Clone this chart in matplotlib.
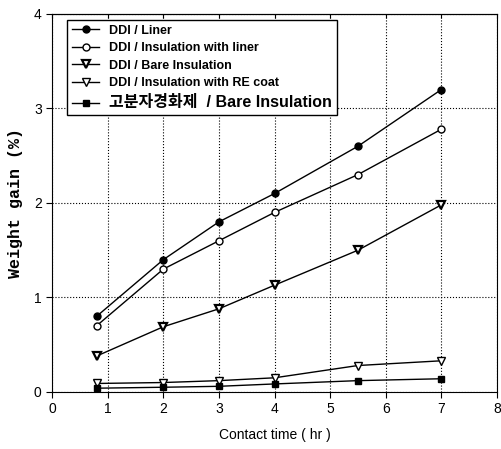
import numpy as np
from matplotlib import pyplot as plt

time = [0.8, 2, 3, 4, 5.5, 7]
liner = [0.8, 1.4, 1.8, 2.1, 2.6, 3.2]
ins_liner = [0.7, 1.3, 1.6, 1.9, 2.3, 2.78]
bare = [0.38, 0.69, 0.88, 1.13, 1.5, 1.98]
re_coat = [0.09, 0.1, 0.12, 0.15, 0.28, 0.33]
hardener = [0.04, 0.05, 0.06, 0.085, 0.12, 0.14]

fig = plt.figure(figsize=(5.01, 4.49), dpi=100)
ax = fig.add_axes([0.104, 0.127, 0.888, 0.842])

ax.plot(time, liner, 'k-', marker='o', ms=5, mfc='black', lw=1, label='DDI / Liner')
ax.plot(time, ins_liner, 'k-', marker='o', ms=5, mfc='white', lw=1, label='DDI / Insulation with liner')
ax.plot(time, bare, 'k-', marker='v', ms=6, mfc='white', mew=1.6, lw=1, label='DDI / Bare Insulation')
ax.plot(time, re_coat, 'k-', marker='v', ms=6, mfc='white', mew=1, lw=1, label='DDI / Insulation with RE coat')
ax.plot(time, hardener, 'k-', marker='s', ms=5, mfc='black', lw=1, label='고분자경화제  / Bare Insulation')

ax.set_xlim(0, 8)
ax.set_ylim(0, 4)
ax.set_xticks(range(0, 9))
ax.set_yticks(range(0, 5))
ax.grid(True, linestyle=':', color='black', lw=0.8)
ax.tick_params(labelsize=10, direction='out', length=4)
for lab in ax.get_xticklabels() + ax.get_yticklabels():
    lab.set_family('Liberation Sans')

# small inward ticks along the top edge
top = ax.secondary_xaxis('top')
top.set_xticks(range(0, 9))
top.tick_params(direction='in', length=3, labeltop=False)

ax.set_xlabel('Contact time ( hr )', family='Liberation Sans', fontsize=10, labelpad=8)
ax.set_ylabel('Weight gain (%)', family='Liberation Mono', fontweight='bold', fontsize=12, labelpad=8)

leg = ax.legend(loc='upper left', bbox_to_anchor=(0.025, 0.995), fancybox=False, edgecolor='black',
                framealpha=1, handlelength=2.2, borderaxespad=0.3, labelspacing=0.45,
                prop={'family': ['Liberation Sans', 'Noto Sans CJK KR'], 'weight': 'bold', 'size': 9})
leg.get_frame().set_linewidth(1)
leg.get_texts()[4].set_fontsize(11.5)

plt.savefig('out.png', dpi=100)
